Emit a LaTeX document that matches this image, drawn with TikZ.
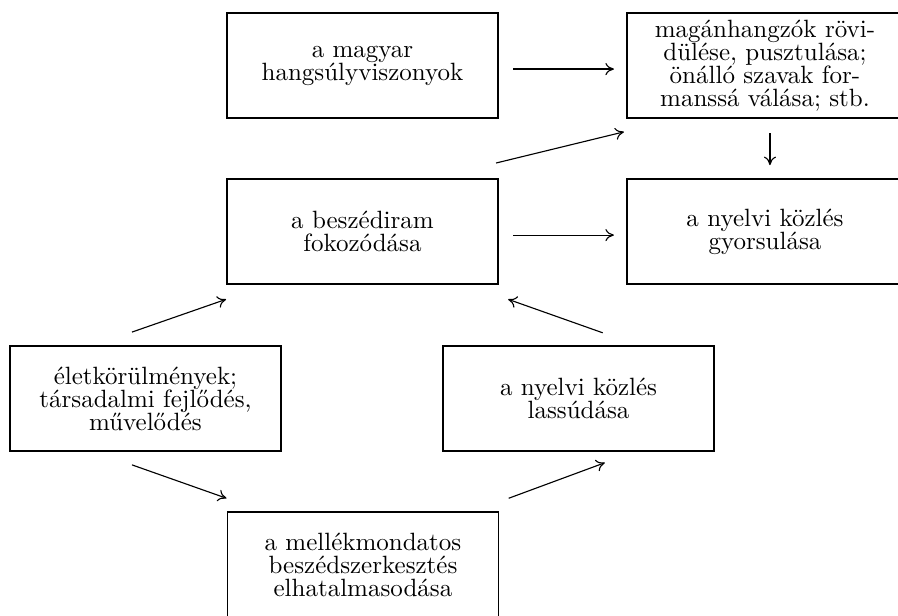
\documentclass[tikz,border=0pt]{standalone}
\usepackage{tikz}
\usetikzlibrary{arrows.meta,calc}

\begin{document}
\begin{tikzpicture}[
  box/.style={draw, rectangle, line width=0.75pt, minimum width=3.81cm, minimum height=1.48cm,
    inner sep=0pt, align=center, font=\fontsize{10}{9.2}\selectfont},
  >={To[length=1.2mm,width=1.7mm]}, line width=0.45pt
]
  \useasboundingbox (0,0) rectangle (12.624,8.646);

  % Top row
  \node[box] (HS) at (5.096,7.725) {a magyar\\hangsúlyviszonyok};
  \node[box,minimum width=3.88cm] (RV) at (10.754,7.725) {magánhangzók rövi-\\dülése, pusztulása;\\önálló szavak for-\\manssá válása; stb.};

  % Middle row
  \node[box] (BI) at (5.096,5.391) {a beszédiram\\fokozódása};
  \node[box,minimum width=3.88cm] (GY) at (10.754,5.391) {a nyelvi közlés\\gyorsulása};

  % Lower row
  \node[box] (EK) at (2.045,3.044) {életkörülmények;\\társadalmi fejlődés,\\művelődés};
  \node[box] (LA) at (8.133,3.044) {a nyelvi közlés\\lassúdása};

  % Bottom
  \node[box] (MM) at (5.103,0.708) {a mellékmondatos\\beszédszerkesztés\\elhatalmasodása};

  \draw[->, shorten <=0.2cm, shorten >=0.17cm] ([yshift=-0.05cm]HS.east) -- ([yshift=-0.05cm]RV.west);
  \draw[->, shorten <=0.2cm, shorten >=0.17cm] ([yshift=-0.05cm]BI.east) -- ([yshift=-0.05cm]GY.west);
  \draw[->, shorten <=0.2cm, shorten >=0.18cm] ([xshift=0.07cm]RV.south) -- ([xshift=0.07cm]GY.north);
  \draw[->] ([shift={(-0.04,0.21)}]BI.north east) -- ([shift={(-0.03,-0.18)}]RV.south west);
  \draw[->] ([shift={(-0.19,0.18)}]EK.north) -- ([shift={(0,-0.2)}]BI.south west);
  \draw[->] ([shift={(0.34,0.17)}]LA.north) -- ([shift={(0.13,-0.2)}]BI.south east);
  \draw[->] ([shift={(-0.19,-0.18)}]EK.south) -- ([shift={(0,0.18)}]MM.north west);
  \draw[->] ([shift={(0.13,0.18)}]MM.north east) -- ([shift={(0.37,-0.15)}]LA.south);
\end{tikzpicture}
\end{document}
